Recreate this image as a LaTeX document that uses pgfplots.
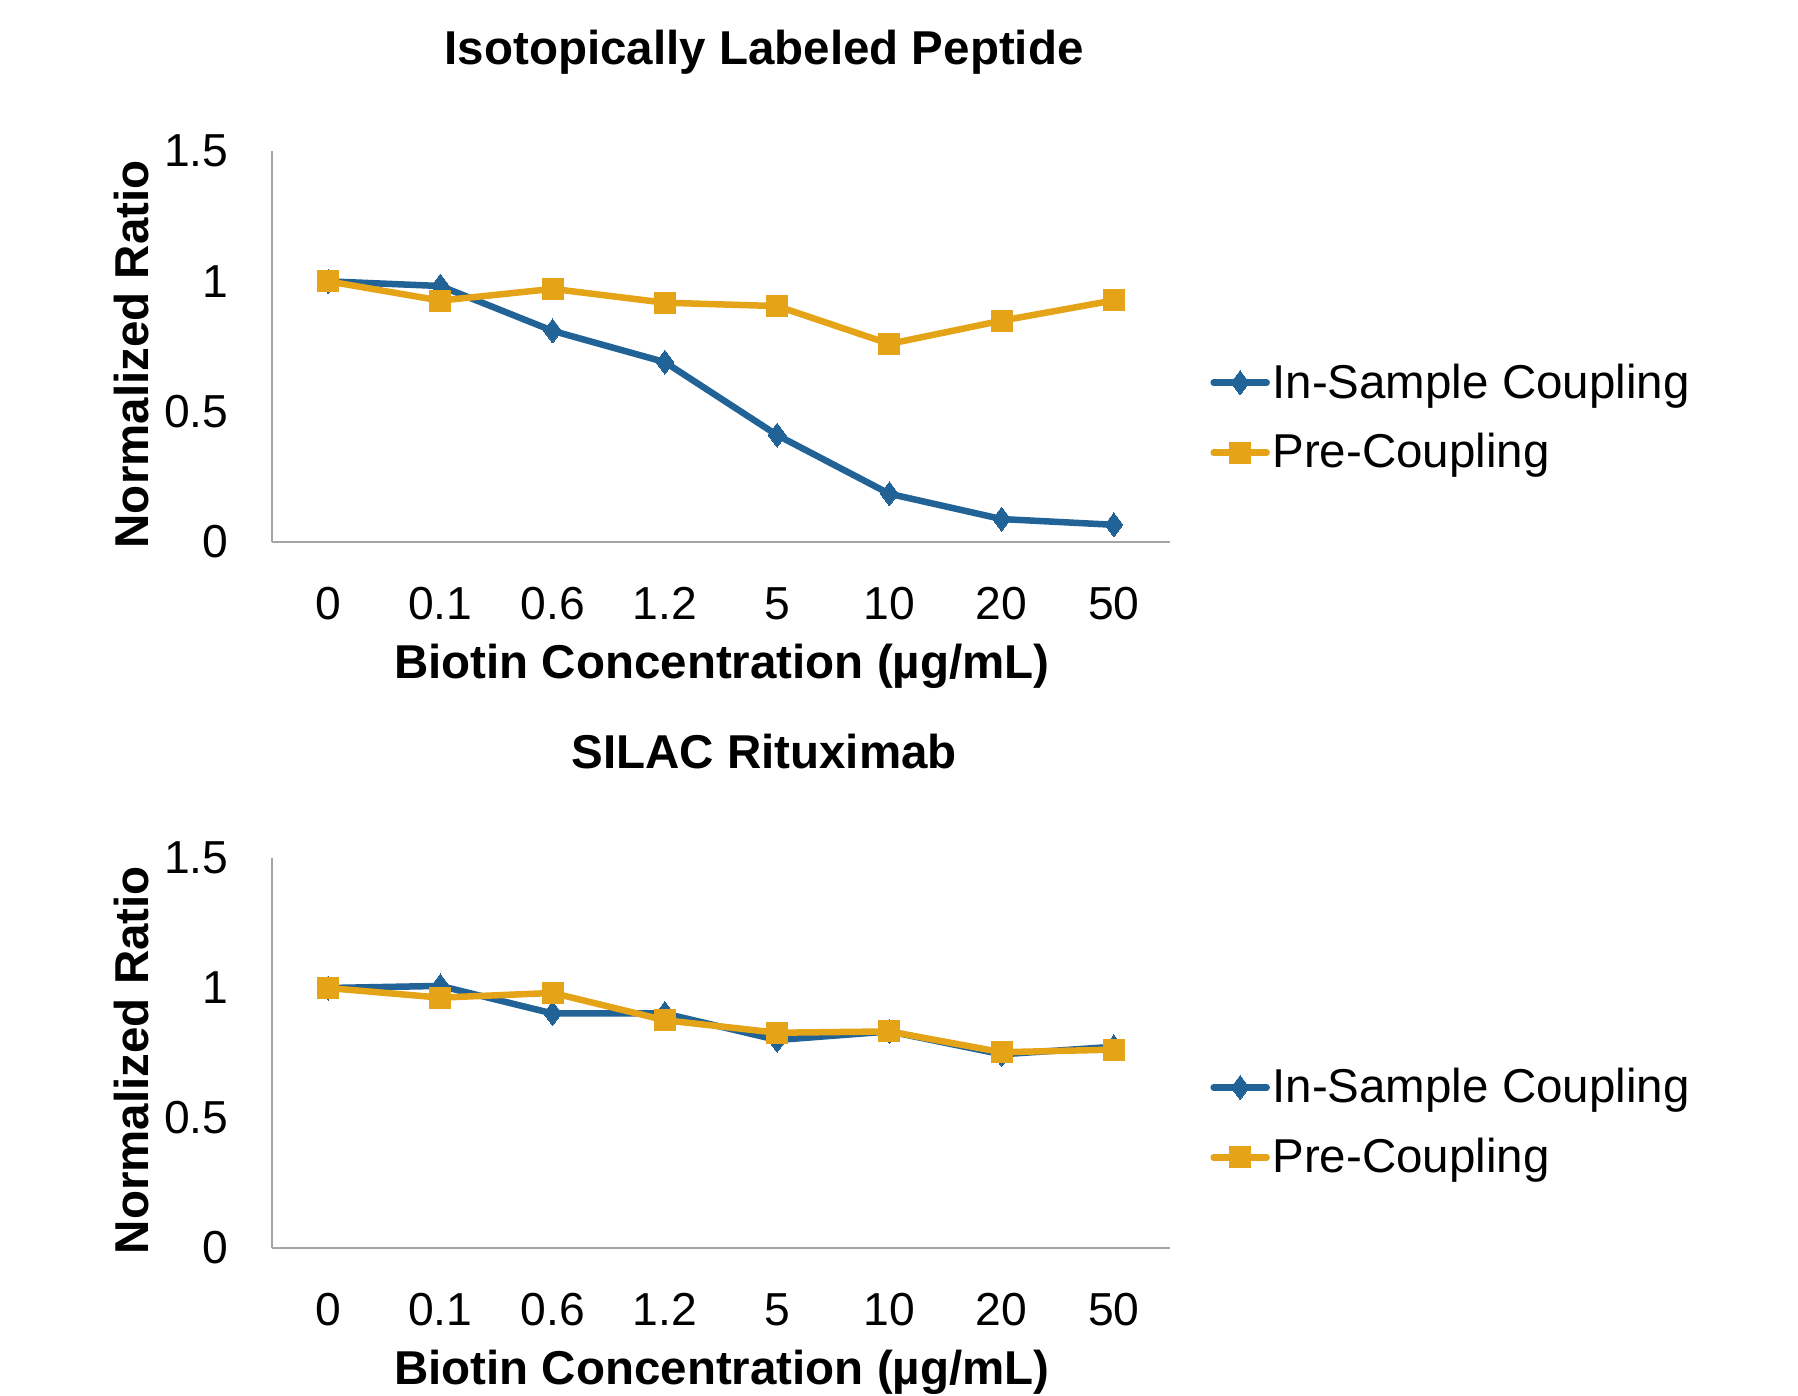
\documentclass[border=0pt]{standalone}
\usepackage{fontspec}
\setmainfont{Liberation Sans}
\usepackage{pgfplots}
\pgfplotsset{compat=1.18}
\definecolor{cblue}{RGB}{33,99,150}
\definecolor{corange}{RGB}{229,163,23}
\definecolor{axgray}{RGB}{165,165,165}

\pgfplotsset{
 myaxis/.style={
  scale only axis, width=359.2pt, height=156.4pt,
  xmin=-0.5, xmax=7.5, ymin=0, ymax=1.5,
  xtick={0,...,7}, xticklabels={0,0.1,0.6,1.2,5,10,20,50},
  ytick={0,0.5,1,1.5},
  axis x line=bottom, axis y line=left,
  axis line style={-, draw=axgray, line width=0.8pt},
  major tick length=0pt,
  clip=false,
  /pgf/number format/assume math mode=true,
  ticklabel style={font=\fontsize{18.5}{22}\selectfont, inner sep=0pt},
  xticklabel style={anchor=base, yshift=-30.8pt},
  yticklabel style={anchor=east, xshift=-17.2pt},
  label style={font=\fontsize{19}{23}\selectfont\bfseries},
  title style={font=\fontsize{19}{23}\selectfont\bfseries, anchor=base, inner sep=0pt},
  xlabel style={at={(axis description cs:0.501,-0.350)}, anchor=base, inner sep=0pt},
  ylabel style={at={(axis description cs:-0.137,0.48)}, anchor=base, inner sep=0pt},
  legend style={at={(axis description cs:1.045,0.318)}, anchor=west, draw=none, fill=none,
    inner sep=0pt, outer sep=0pt, font=\fontsize{19}{23}\selectfont, row sep=12.7pt,
    nodes={inner xsep=1pt, inner ysep=0pt}},
  legend cell align=left,
  legend image code/.code={\draw[mark repeat=2,mark phase=2,line cap=round,##1] plot coordinates {(0pt,0pt)(10.6pt,0pt)(21.2pt,0pt)};},
 },
 blueline/.style={color=cblue, line width=2.6pt, mark=diamond*, mark size=4.8pt, mark options={solid, fill=cblue, draw=cblue, line width=0pt}},
 orangeline/.style={color=corange, line width=2.6pt, mark=square*, mark size=4.2pt, mark options={solid, fill=corange, draw=corange, line width=0pt}},
}

\begin{document}
\begin{tikzpicture}
\path[use as bounding box] (0,0) rectangle (719.2pt,-558.4pt);

\begin{axis}[myaxis, at={(108.8pt,-60.4pt)}, anchor=north west,
  title={Isotopically Labeled Peptide},
  title style={at={(axis description cs:0.548,1.184)}},
  xlabel={Biotin Concentration (µg/mL)},
  ylabel={Normalized Ratio}]
\addplot[blueline] coordinates {(0,1.00) (1,0.982) (2,0.81) (3,0.69) (4,0.41) (5,0.185) (6,0.088) (7,0.066)};
\addlegendentry{In-Sample Coupling}
\addplot[orangeline] coordinates {(0,1.00) (1,0.926) (2,0.971) (3,0.918) (4,0.905) (5,0.76) (6,0.849) (7,0.927)};
\addlegendentry{Pre-Coupling}
\end{axis}

\begin{axis}[myaxis, at={(108.8pt,-343.2pt)}, anchor=north west, height=156pt,
  title={SILAC Rituximab},
  title style={at={(axis description cs:0.548,1.19)}},
  xlabel={Biotin Concentration (µg/mL)},
  xlabel style={at={(axis description cs:0.501,-0.349)}},
  ylabel={Normalized Ratio},
  ylabel style={at={(axis description cs:-0.137,0.482)}},
  legend style={at={(axis description cs:1.045,0.322)}}]
\addplot[blueline] coordinates {(0,1.00) (1,1.008) (2,0.902) (3,0.902) (4,0.80) (5,0.833) (6,0.745) (7,0.774)};
\addlegendentry{In-Sample Coupling}
\addplot[orangeline] coordinates {(0,1.00) (1,0.963) (2,0.981) (3,0.876) (4,0.828) (5,0.833) (6,0.753) (7,0.763)};
\addlegendentry{Pre-Coupling}
\end{axis}
\end{tikzpicture}
\end{document}
